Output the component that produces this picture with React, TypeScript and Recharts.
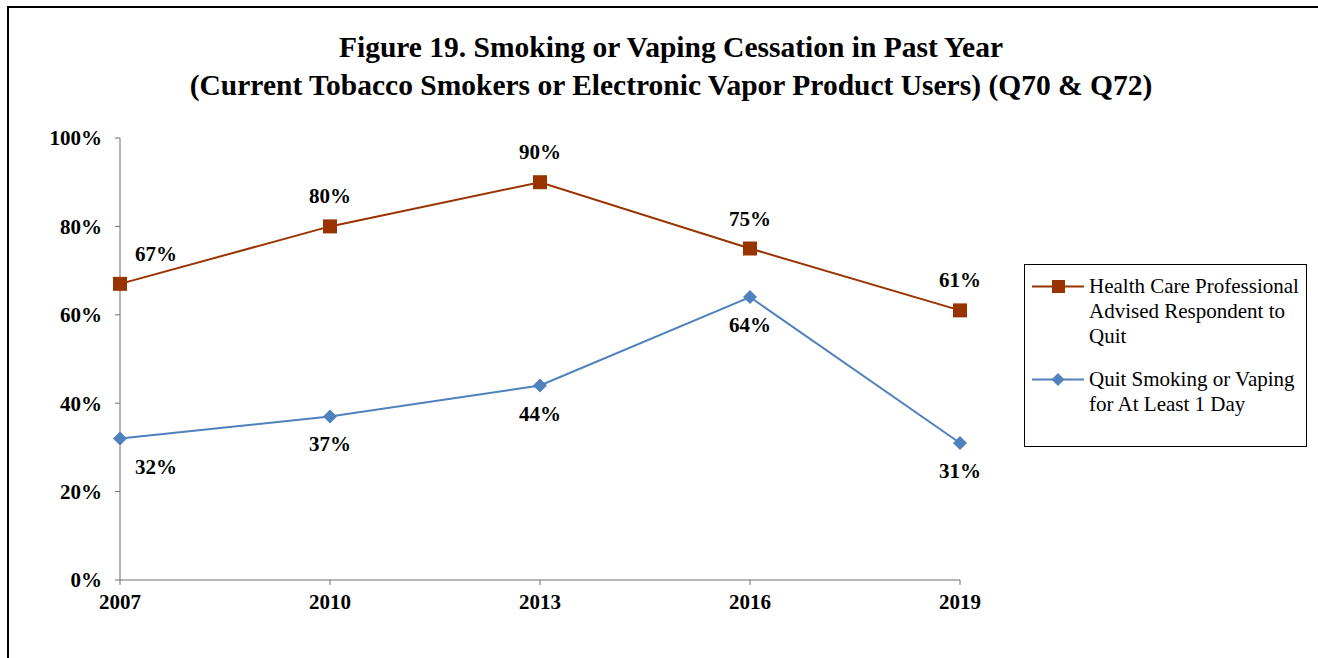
import { LineChart, Line, XAxis, YAxis, Legend } from "recharts";

const years = ["2007", "2010", "2013", "2016", "2019"];
const advisedToQuit = [67, 80, 90, 75, 61];
const quitOneDay = [32, 37, 44, 64, 31];
const yTicks = [0, 20, 40, 60, 80, 100];

const seriesNames = {
  advised: "Health Care Professional Advised Respondent to Quit",
  quit: "Quit Smoking or Vaping for At Least 1 Day",
};

const legendLines: Record<string, string[]> = {
  advised: ["Health Care Professional", "Advised Respondent to", "Quit"],
  quit: ["Quit Smoking or Vaping", "for At Least 1 Day"],
};

const ORANGE = "#993300";
const BLUE = "#4F81BD";
const AXIS = "#6E6E6E";
const FONT = '"Liberation Serif", "Times New Roman", serif';

const data = years.map((year, i) => ({
  year,
  advised: advisedToQuit[i],
  quit: quitOneDay[i],
}));

function SquareDot(props: any) {
  const { cx, cy } = props;
  if (cx == null || cy == null) return null;
  return <rect x={cx - 7} y={cy - 7} width={14} height={14} fill={ORANGE} />;
}

function DiamondDot(props: any) {
  const { cx, cy } = props;
  if (cx == null || cy == null) return null;
  return (
    <polygon
      points={`${cx},${cy - 7} ${cx + 7},${cy} ${cx},${cy + 7} ${cx - 7},${cy}`}
      fill={BLUE}
    />
  );
}

function makeLabel(dyAbove: number) {
  return function PctLabel(props: any) {
    const { x, y, value, index } = props;
    // first point sits on the axis, so Excel nudged its label to the right
    const dx = index === 0 ? 36 : 0;
    return (
      <text
        x={x + dx}
        y={y + dyAbove}
        textAnchor="middle"
        dominantBaseline="central"
        fontFamily={FONT}
        fontWeight="bold"
        fontSize={21}
        fill="#000"
      >
        {value}%
      </text>
    );
  };
}

function LegendBox(props: any) {
  const { payload } = props;
  return (
    <div
      style={{
        width: 283,
        height: 183,
        border: "1px solid #000",
        fontFamily: FONT,
        fontSize: 21,
        lineHeight: "25px",
        boxSizing: "border-box",
        paddingTop: 9,
        background: "#fff",
      }}
    >
      {(payload || []).map((entry: any) => {
        const key = entry.dataKey as string;
        const color = key === "advised" ? ORANGE : BLUE;
        return (
          <div key={key} style={{ display: "flex", marginBottom: 18 }}>
            <svg width={64} height={25} style={{ flex: "none" }}>
              <line x1={7} x2={59} y1={12.5} y2={12.5} stroke={color} strokeWidth={2} />
              {key === "advised" ? (
                <rect x={27} y={6} width={13} height={13} fill={color} />
              ) : (
                <polygon points="33,6 39.5,12.5 33,19 26.5,12.5" fill={color} />
              )}
            </svg>
            <div style={{ textAlign: "left", color: "#000", whiteSpace: "nowrap" }}>
              {legendLines[key].map((t) => (
                <div key={t}>{t}</div>
              ))}
            </div>
          </div>
        );
      })}
    </div>
  );
}

export default function App() {
  return (
    <div style={{ position: "relative", width: 1318, height: 658, background: "#fff", overflow: "hidden" }}>
      <style>{"body{margin:0}"}</style>
      <div
        style={{
          position: "absolute",
          left: 7,
          top: 6,
          width: 1320,
          height: 700,
          border: "2px solid #000",
          boxSizing: "border-box",
        }}
      />
      <div
        style={{
          position: "absolute",
          left: 0,
          top: 28,
          width: 1342,
          textAlign: "center",
          fontFamily: FONT,
          fontWeight: "bold",
          fontSize: 29.5,
          lineHeight: "38px",
          color: "#000",
        }}
      >
        <div>Figure 19. Smoking or Vaping Cessation in Past Year</div>
        <div>(Current Tobacco Smokers or Electronic Vapor Product Users) (Q70 &amp; Q72)</div>
      </div>
      <div style={{ position: "absolute", left: 0, top: 0 }}>
        <LineChart
          width={1318}
          height={658}
          data={data}
          margin={{ top: 138, right: 358, bottom: 38, left: 10 }}
        >
          <XAxis
            dataKey="year"
            stroke={AXIS}
            tickSize={5}
            tickMargin={9}
            tick={{ fill: "#000", fontFamily: FONT, fontWeight: "bold", fontSize: 21 }}
            height={40}
          />
          <YAxis
            domain={[0, 100]}
            ticks={yTicks}
            width={110}
            stroke={AXIS}
            tickSize={5}
            tickMargin={13}
            tickFormatter={(v: number) => `${v}%`}
            tick={{ fill: "#000", fontFamily: FONT, fontWeight: "bold", fontSize: 21 }}
          />
          <Legend
            layout="vertical"
            verticalAlign="middle"
            align="center"
            wrapperStyle={{ left: 1024, top: 264, width: 283 }}
            content={<LegendBox />}
          />
          <Line
            name={seriesNames.advised}
            dataKey="advised"
            stroke={ORANGE}
            strokeWidth={2}
            dot={<SquareDot />}
            activeDot={false}
            label={makeLabel(-30)}
            isAnimationActive={false}
          />
          <Line
            name={seriesNames.quit}
            dataKey="quit"
            stroke={BLUE}
            strokeWidth={2}
            dot={<DiamondDot />}
            activeDot={false}
            label={makeLabel(28)}
            isAnimationActive={false}
          />
        </LineChart>
      </div>
    </div>
  );
}
